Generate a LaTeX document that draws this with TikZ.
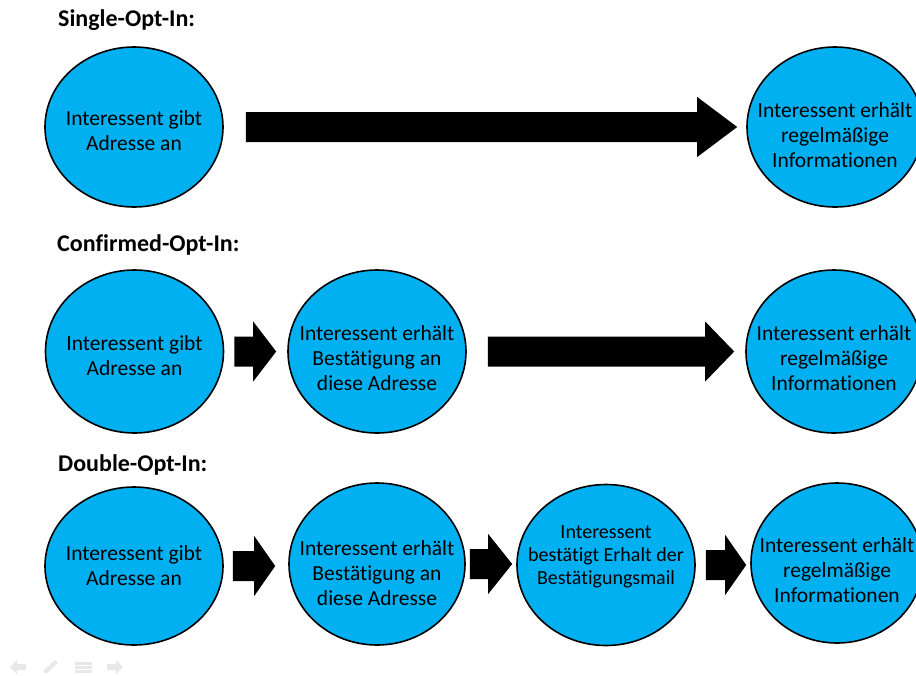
\documentclass[tikz,border=0pt]{standalone}
\usepackage{fontspec}
\setmainfont[Ligatures=NoCommon]{Carlito}
\usetikzlibrary{shapes.geometric,calc}
\definecolor{optblue}{HTML}{00B0F0}
\newcommand\txtdown[1]{\rule{0pt}{\dimexpr 15pt+2\dimexpr #1\relax\relax}}
\newcommand\txtup[1]{\rule[\dimexpr -4.5pt-2\dimexpr #1\relax\relax]{0pt}{0pt}}
\tikzset{
    bubble/.style={ellipse, draw=black, line width=1.6pt, fill=optblue,
        inner xsep=-40pt, inner ysep=0pt, minimum width=178pt, minimum height=160pt,
        align=center, font=\fontsize{21.5}{25}\selectfont},
    heading/.style={anchor=west, inner sep=0pt, font=\bfseries\fontsize{24}{28}\selectfont},
    blockarrow/.style={fill=black, to path={let \p1=(\tikztostart), \p2=(\tikztotarget) in
        (\x1,\y1+15pt) -- (\x2-#1,\y1+15pt) -- (\x2-#1,\y1+30pt) -- (\x2,\y1)
        -- (\x2-#1,\y1-30pt) -- (\x2-#1,\y1-15pt) -- (\x1,\y1-15pt) -- cycle}},
    blockarrow/.default=23pt,
    navicon/.style={fill=black!9}
}
\begin{document}
\begin{tikzpicture}[x=1pt, y=-1pt]
\useasboundingbox (0,0) rectangle (916,675);

% Single-Opt-In
\node[heading] (single) at (58,20) {Single-Opt-In:};
\node[bubble] (a1) at (134,127) {\txtdown{3.5pt}Interessent gibt\\Adresse an};
\node[bubble, minimum width=176pt] (a2) at (835,127) {\txtdown{8pt}Interessent erhält\\regelmäßige\\Informationen};
\path[blockarrow=40pt] ($(a1.east)+(22,0)$) to ($(a2.west)+(-9,0)$);

% Confirmed-Opt-In
\node[heading] (confirmed) at (57,245) {Confirmed-Opt-In:};
\node[bubble, minimum height=163pt] (b1) at (134.5,351.5) {\txtdown{4pt}Interessent gibt\\Adresse an};
\node[bubble, minimum height=163pt] (b2) at (377,351.5) {\txtdown{6.5pt}Interessent erhält\\Bestätigung an\\diese Adresse};
\node[bubble, minimum width=176pt, minimum height=163pt] (b3) at (834,351.5) {\txtdown{6.5pt}Interessent erhält\\regelmäßige\\Informationen};
\path[blockarrow] ($(b1.east)+(10,0)$) to ($(b2.west)+(-11,0)$);
\path[blockarrow=29pt] ($(b2.east)+(21,0)$) to ($(b3.west)+(-11,0)$);

% Double-Opt-In
\node[heading] (double) at (58,465) {Double-Opt-In:};
\node[bubble, minimum height=158pt] (c1) at (134,566) {Interessent gibt\\Adresse an};
\node[bubble, minimum width=176pt, minimum height=162pt] (c2) at (377,564) {\txtdown{9pt}Interessent erhält\\Bestätigung an\\diese Adresse};
\node[bubble, minimum height=161pt, font=\fontsize{20}{23}\selectfont] (c3) at (606,565) {Interessent\\bestätigt Erhalt der\\Bestätigungsmail\txtup{8pt}};
\node[bubble, minimum width=172pt] (c4) at (837,563) {\txtdown{7pt}Interessent erhält\\regelmäßige\\Informationen};
\path[blockarrow=21pt] ($(c1.east)+(9,0)$) to ($(c2.west)+(-13,0)$);
\path[blockarrow=24pt] ($(c2.east)+(4,0)$) to ($(c3.west)+(-4,0)$);
\path[blockarrow=21pt] ($(c3.east)+(10,0)$) to ($(c4.west)+(-4,0)$);

% slide navigation
\fill[navicon] (10,667) -- (17,660) -- (17,664) -- (26,664) -- (26,670) -- (17,670) -- (17,674) -- cycle;
\fill[navicon] (44,673) -- (44,670) -- (55,660) -- (58,663) -- (47,673) -- cycle;
\foreach \y in {662,666,670}
    \fill[navicon] (75,\y) rectangle (92,\y+3);
\fill[navicon] (123,667) -- (116,660) -- (116,664) -- (107,664) -- (107,670) -- (116,670) -- (116,674) -- cycle;
\end{tikzpicture}
\end{document}
